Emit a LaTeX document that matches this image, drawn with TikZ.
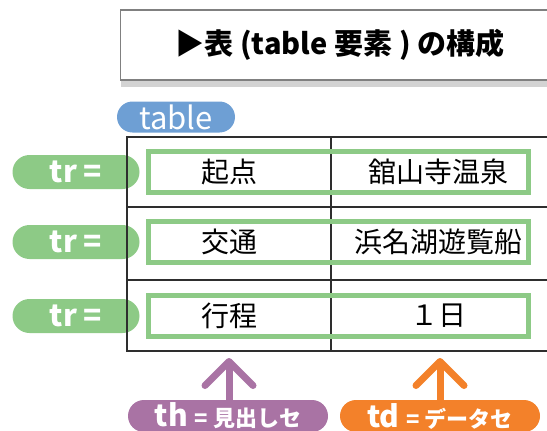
\documentclass[tikz,border=0pt]{standalone}
\usepackage{fontspec}
\setmainfont{Noto Sans CJK JP}
\usetikzlibrary{positioning,arrows.meta,shadows}
\definecolor{trgreen}{HTML}{8DCA86}
\definecolor{tblue}{HTML}{6E9FD4}
\definecolor{thpurple}{HTML}{A973A4}
\definecolor{tdorange}{HTML}{F3812A}
\definecolor{gridgray}{HTML}{2E2E2E}
\tikzset{
  pill/.style={
    rectangle,
    rounded corners=17pt,
    text=white,
    inner sep=0pt,
    minimum height=34pt,
    font=\fontsize{30}{32}\selectfont\bfseries},
  rowbox/.style={
    rectangle,
    draw=trgreen, line width=5pt,
    minimum width=380pt,
    minimum height=41pt},
  cell/.style={font=\fontsize{28}{30}\selectfont},
  grid/.style={draw=gridgray, line width=2.4pt},
  uparrow/.style={line width=7pt,
    -{Straight Barb[length=24pt 0 0,width=48pt 0 0,round]}},
}
\begin{document}
\begin{tikzpicture}[x=1pt,y=-1pt]
\useasboundingbox (0,0) rectangle (547,431);
\clip (0,0) rectangle (547,431);
% title
\node[draw=gray, line width=1.2pt, fill=white,
  drop shadow={shadow xshift=0pt, shadow yshift=-7pt, opacity=.35, fill=gray},
  minimum width=440pt, minimum height=70pt, anchor=west] (title) at (120,45) {};
\node[font=\fontsize{29}{32}\selectfont\bfseries] (titletext) at (340,45)
  {▶表 (table 要素 ) の構成};
% row labels
\node[pill, fill=trgreen, minimum width=127pt] (tr1) at (76,172) {tr =};
\node[pill, fill=trgreen, minimum width=127pt] (tr2) at (76,242) {tr =};
\node[pill, fill=trgreen, minimum width=127pt] (tr3) at (76,316) {tr =};
\node[pill, fill=tblue, minimum width=118pt, minimum height=31pt,
  rounded corners=15.5pt, font=\fontsize{31}{32}\selectfont] (tbl) at (176,117) {table};
% table grid
\coordinate (nw) at (127,137);
\coordinate (se) at (560,351);
\draw[grid] (nw) rectangle (se);
\draw[grid] (331,137) -- (331,351);
\draw[grid] (127,207) -- (560,207);
\draw[grid] (127,280) -- (560,280);
% rows
\node[rowbox] (row1) at (338,172) {};
\node[rowbox] (row2) at (338,242) {};
\node[rowbox] (row3) at (338,316) {};
\node[cell] (th1) at (229,172) {起点};
\node[cell] (td1) at (438,172) {舘山寺温泉};
\node[cell] (th2) at (229,242) {交通};
\node[cell] (td2) at (438,242) {浜名湖遊覧船};
\node[cell] (th3) at (229,316) {行程};
\node[cell] (td3) at (438,316) {１日};
% element labels
\node[pill, fill=thpurple, minimum width=200pt, minimum height=32pt,
  rounded corners=16pt] (th) at (228,416)
  {th {\fontsize{22}{24}\selectfont = 見出しセ}};
\node[pill, fill=tdorange, minimum width=200pt, minimum height=32pt,
  rounded corners=16pt] (td) at (440,416)
  {td {\fontsize{22}{24}\selectfont = データセ}};
\coordinate (thtip) at (229,358);
\coordinate (tdtip) at (440,358);
\draw[uparrow, thpurple] (th.north -| thtip) -- (thtip);
\draw[uparrow, tdorange] (td.north -| tdtip) -- (tdtip);
\end{tikzpicture}
\end{document}
